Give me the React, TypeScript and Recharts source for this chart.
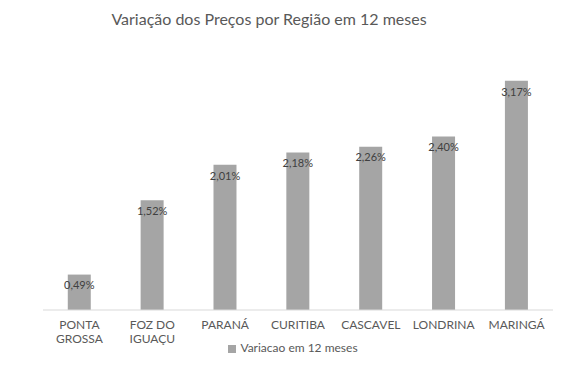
import { Bar, BarChart, LabelList, Legend, XAxis, YAxis } from 'recharts'

const regions = ['PONTA GROSSA', 'FOZ DO IGUAÇU', 'PARANÁ', 'CURITIBA', 'CASCAVEL', 'LONDRINA', 'MARINGÁ']
const variation = [0.49, 1.52, 2.01, 2.18, 2.26, 2.4, 3.17]
const seriesName = 'Variacao em 12 meses'
const title = 'Variação dos Preços por Região em 12 meses'

const data = regions.map((region, i) => ({ region, value: variation[i] }))

const FONT = 'Lato, "Open Sans", sans-serif'
const TEXT = '#595959'

function wrap(label: string, max = 7) {
  const lines: string[] = []
  let cur = ''
  for (const word of label.split(' ')) {
    const next = cur ? `${cur} ${word}` : word
    if (cur && next.length > max) {
      lines.push(cur)
      cur = word
    } else {
      cur = next
    }
  }
  if (cur) lines.push(cur)
  return lines
}

function RegionTick(props: any) {
  const { x, y, payload } = props
  const lines = wrap(String(payload.value))
  return (
    <text x={x} y={y} textAnchor="middle" fill={TEXT} fontSize={12} fontFamily={FONT}>
      {lines.map((line, i) => (
        <tspan key={i} x={x} dy={i === 0 ? 11 : 14}>
          {line}
        </tspan>
      ))}
    </text>
  )
}

const formatPct = (v: number) => `${v.toFixed(2).replace('.', ',')}%`

export default function App() {
  return (
    <div style={{ position: 'absolute', left: 0, top: 0, width: 564, height: 369, background: '#fff' }}>
      <div
        style={{
          position: 'absolute',
          top: 9,
          left: 0,
          width: 538,
          textAlign: 'center',
          fontFamily: FONT,
          fontSize: 16,
          color: TEXT,
        }}
      >
        {title}
      </div>
      <BarChart
        width={564}
        height={369}
        data={data}
        margin={{ top: 57, right: 11, left: 43, bottom: 14 }}
        barCategoryGap="34%"
      >
        <XAxis
          dataKey="region"
          axisLine={{ stroke: '#D9D9D9' }}
          tickLine={false}
          tick={<RegionTick />}
          interval={0}
          height={30}
        />
        <YAxis hide domain={[0, 3.5]} />
        <Legend
          verticalAlign="bottom"
          iconType="square"
          iconSize={8}
          wrapperStyle={{ fontFamily: FONT, fontSize: 12, color: TEXT, paddingLeft: 0 }}
          formatter={(value) => <span style={{ color: TEXT }}>{value}</span>}
        />
        <Bar dataKey="value" name={seriesName} fill="#A5A5A5" isAnimationActive={false}>
          <LabelList
            dataKey="value"
            position="insideTop"
            offset={7}
            formatter={(v: any) => formatPct(Number(v))}
            fill="#404040"
            fontSize={11}
            fontFamily={FONT}
          />
        </Bar>
      </BarChart>
    </div>
  )
}
